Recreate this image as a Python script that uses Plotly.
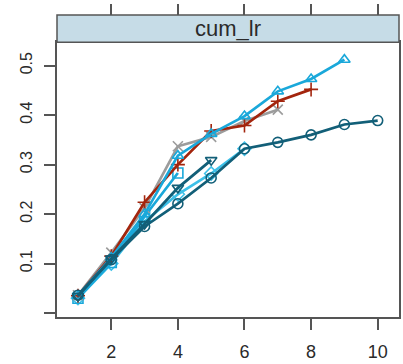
import plotly.graph_objects as go

panel_title = "cum_lr"
x_ticks = [2, 4, 6, 8, 10]
y_ticks = [0.0, 0.1, 0.2, 0.3, 0.4, 0.5]
y_tick_text = ["", "0.1", "0.2", "0.3", "0.4", "0.5"]

s1 = [0.036, 0.108, 0.175, 0.221, 0.273, 0.332, 0.345, 0.360, 0.381, 0.389]
s2 = [0.035, 0.112, 0.200, 0.318, 0.362, 0.398, 0.448, 0.473, 0.512]
s3 = [0.035, 0.115, 0.224, 0.300, 0.368, 0.379, 0.428, 0.452]
s4 = [0.036, 0.122, 0.212, 0.337, 0.356, 0.388, 0.411]
s5 = [0.030, 0.100, 0.185, 0.240, 0.282, 0.332]
s6 = [0.034, 0.110, 0.180, 0.253, 0.309]
s7 = [0.030, 0.102, 0.195, 0.283]

series = [
    (s5, "#3dc0e8", "diamond-open"),
    (s7, "#1aa8da", "square-open"),
    (s4, "#9c9c9c", "x-thin-open"),
    (s3, "#a3250d", "cross-thin-open"),
    (s2, "#1aa8da", "triangle-up-open"),
    (s6, "#125f78", "triangle-down-open"),
    (s1, "#125f78", "circle-open"),
]

fig = go.Figure()
for vals, col, sym in series:
    xs = list(range(1, len(vals) + 1))
    fig.add_trace(go.Scatter(
        x=xs, y=vals, mode="lines+markers",
        line=dict(color=col, width=2.7),
        marker=dict(symbol=sym, size=10, color=col, line=dict(color=col, width=1.6)),
        showlegend=False, hoverinfo="skip"))

# invisible trace for top axis
fig.add_trace(go.Scatter(x=[x_ticks[0]], y=[y_ticks[0]], xaxis="x2", mode="markers",
                         marker=dict(opacity=0), showlegend=False, hoverinfo="skip"))

xr = [0.37, 10.64]
yr = [-0.008, 0.547]
dom_top = 281 / 309
axcol = "#555555"
fig.update_layout(
    width=403, height=364,
    margin=dict(l=57, r=2, t=15, b=40),
    paper_bgcolor="white", plot_bgcolor="white",
    font=dict(family="Liberation Sans, Arial, sans-serif", color="#2a2a2a"),
    xaxis=dict(range=xr, tickvals=x_ticks, showgrid=False, zeroline=False,
               showline=True, mirror=True, linecolor=axcol, linewidth=1.5,
               ticks="outside", ticklen=11, tickwidth=1.5, tickcolor=axcol,
               tickfont=dict(size=18, color="#2a2a2a"), ticklabelstandoff=7),
    xaxis2=dict(range=xr, tickvals=x_ticks, showgrid=False, zeroline=False,
                overlaying="x", side="top", anchor="free", position=1,
                showticklabels=False, ticks="outside", ticklen=11, tickwidth=1.5,
                tickcolor=axcol, showline=False),
    yaxis=dict(range=yr, domain=[0, dom_top], tickvals=y_ticks, ticktext=y_tick_text,
               showgrid=False, zeroline=False, showline=True, mirror=True,
               linecolor=axcol, linewidth=1.5, ticks="outside", ticklen=11,
               tickwidth=1.5, tickcolor=axcol, tickangle=-90,
               tickfont=dict(size=16, color="#2a2a2a"), ticklabelstandoff=6),
    shapes=[dict(type="rect", xref="paper", yref="paper", x0=0, x1=1,
                 y0=dom_top, y1=1, fillcolor="#c6dce7",
                 line=dict(color=axcol, width=1.5), layer="above")],
    annotations=[dict(text=panel_title, xref="paper", yref="paper", x=0.5,
                      y=(dom_top + 1) / 2, showarrow=False, xanchor="center",
                      yanchor="middle", font=dict(size=22, color="#2a2a2a"))],
)

fig.write_html("out.html")
